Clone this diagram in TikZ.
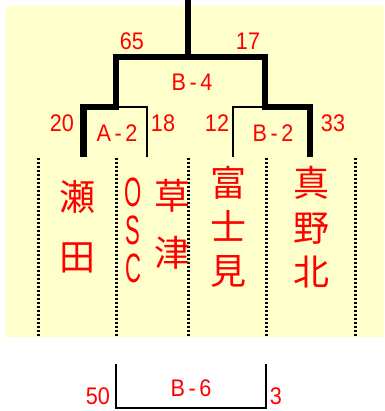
\documentclass[tikz,border=0pt]{standalone}
\usepackage{fontspec}
\setmainfont{Liberation Sans}
\newfontfamily\cjk{Noto Sans CJK JP}
\definecolor{bgyellow}{HTML}{FFFFCC}
\definecolor{txtred}{HTML}{FF0000}
\begin{document}
\begin{tikzpicture}[x=1pt,y=-1pt,
  thickline/.style={line width=6.8pt, line join=miter},
  thinline/.style={line width=1.6pt},
  divider/.style={line width=3pt, dash pattern=on 2pt off 2pt},
  score/.style={text=txtred, font=\fontsize{24}{24}\selectfont, xscale=0.9, inner sep=0pt},
  matchlbl/.style={text=txtred, font=\fontsize{24}{24}\selectfont, xscale=0.9, inner sep=0pt},
  team/.style={text=txtred, font=\cjk\fontsize{36}{#1}\selectfont, align=center, inner sep=0pt},
  latin/.style={text=txtred, font=\fontsize{41}{#1}\selectfont, align=center, inner sep=0pt, xscale=0.54}]
\useasboundingbox (0,0) rectangle (384,411);
\fill[bgyellow] (6,6) rectangle (384,337);

% bracket coordinates
\coordinate (top) at (188,0);
\coordinate (topj) at (188,57);
\coordinate (l1) at (116,57);
\coordinate (r1) at (265,57);
\coordinate (la) at (116,107);
\coordinate (ra) at (265,107);
\coordinate (a1) at (83.5,107);
\coordinate (a1b) at (83.5,157);
\coordinate (a2) at (147,107);
\coordinate (a2b) at (147,157);
\coordinate (b1) at (233,107);
\coordinate (b1b) at (233,157);
\coordinate (b2) at (310,107);
\coordinate (b2b) at (310,157);

\draw[thickline] (a1b) -- (a1) -- (la) -- (l1) -- (r1) -- (ra) -- (b2) -- (b2b);
\draw[thickline] (top) -- (topj);
\draw[thinline] (la) -- (a2) -- (a2b);
\draw[thinline] (ra) -- (b1) -- (b1b);

% dividers
\foreach \i/\xx in {1/38,2/116,3/188,4/266,5/355.5}{
  \coordinate (d\i t) at (\xx,158);
  \coordinate (d\i b) at (\xx,337);
  \draw[divider] (d\i t) -- (d\i b);
}

% labels
\node[score] (s65) at (132,41) {65};
\node[score] (s17) at (248,41) {17};
\node[matchlbl] (mB4) at (192,82) {B\,-\,4};
\node[score] (s20) at (62,123) {20};
\node[matchlbl] (mA2) at (117,133) {A\,-\,2};
\node[score] (s18) at (163,123) {18};
\node[score] (s12) at (217,123) {12};
\node[matchlbl] (mB2) at (273,133) {B\,-\,2};
\node[score] (s33) at (333,123) {33};

% teams
\node[team=60] (seta) at (77.5,227) {瀬\\田};
\node[latin=38] (osc) at (133,230) {O\\S\\C};
\node[team=57] (kusatsu) at (172,224.5) {草\\津};
\node[team=44] (fujimi) at (228,227) {富\\士\\見};
\node[team=44.5] (mano) at (311,227.5) {真\\野\\北};

% bottom match
\coordinate (c1) at (116,364);
\coordinate (c2) at (116,408);
\coordinate (c3) at (266,408);
\coordinate (c4) at (266,364);
\draw[line width=1.3pt] (c1) -- (c2) -- (c3) -- (c4);
\node[matchlbl] (mB6) at (191,388) {B\,-\,6};
\node[score] (s50) at (98,396) {50};
\node[score] (s3) at (276,396) {3};
\end{tikzpicture}
\end{document}
